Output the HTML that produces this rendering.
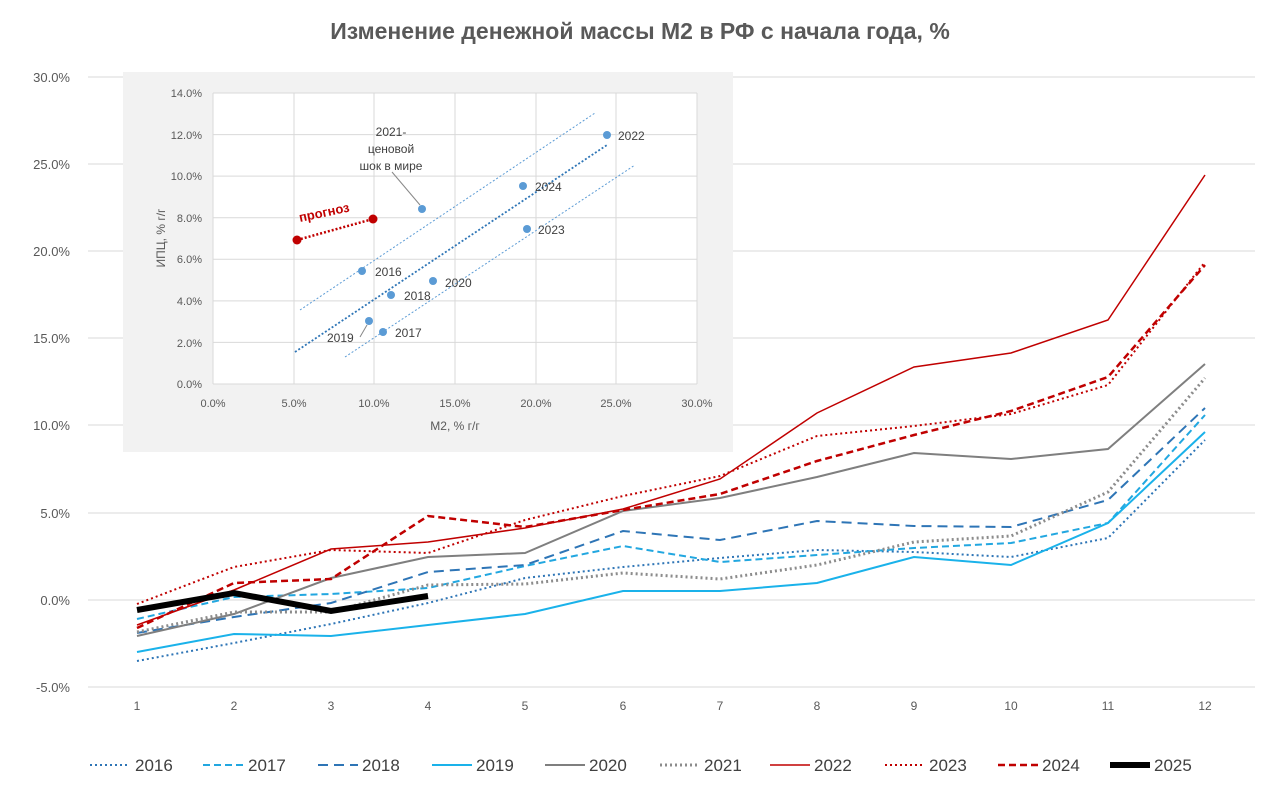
<!DOCTYPE html>
<html><head><meta charset="utf-8"><style>
body{margin:0;background:#fff}
svg text{font-family:"Liberation Sans",sans-serif}
</style></head><body>
<svg width="1280" height="797" viewBox="0 0 1280 797" xmlns="http://www.w3.org/2000/svg">
<rect width="1280" height="797" fill="#fff"/>
<text x="640" y="39" text-anchor="middle" font-size="23" font-weight="bold" fill="#595959">Изменение денежной массы М2 в РФ с начала года, %</text>
<g stroke="#d9d9d9" stroke-width="1">
<line x1="88" x2="1255" y1="77" y2="77"/><line x1="88" x2="1255" y1="164" y2="164"/><line x1="88" x2="1255" y1="251" y2="251"/><line x1="88" x2="1255" y1="338" y2="338"/><line x1="88" x2="1255" y1="425" y2="425"/><line x1="88" x2="1255" y1="513" y2="513"/><line x1="88" x2="1255" y1="600" y2="600"/><line x1="88" x2="1255" y1="687" y2="687"/>
</g>
<g font-size="13" fill="#595959" text-anchor="end">
<text x="70" y="82">30.0%</text><text x="70" y="169">25.0%</text><text x="70" y="256">20.0%</text><text x="70" y="343">15.0%</text><text x="70" y="430">10.0%</text><text x="70" y="518">5.0%</text><text x="70" y="605">0.0%</text><text x="70" y="692">-5.0%</text>
</g>
<g font-size="12" fill="#595959" text-anchor="middle">
<text x="137" y="710">1</text><text x="234" y="710">2</text><text x="331" y="710">3</text><text x="428" y="710">4</text><text x="525" y="710">5</text><text x="623" y="710">6</text><text x="720" y="710">7</text><text x="817" y="710">8</text><text x="914" y="710">9</text><text x="1011" y="710">10</text><text x="1108" y="710">11</text><text x="1205" y="710">12</text>
</g>
<g fill="none" stroke-width="2">
<polyline stroke="#2e75b6" stroke-dasharray="2,3" points="137,661 234,643 331,624 428,603 525,578 623,567 720,558 817,550 914,552 1011,557 1108,538 1205,440"/>
<polyline stroke="#22a7e0" stroke-dasharray="7,4" points="137,619 234,597 331,594 428,588 525,566 623,546 720,562 817,555 914,548 1011,543 1108,523 1205,415"/>
<polyline stroke="#2e75b6" stroke-dasharray="10,6" points="137,633 234,617 331,603 428,572 525,565 623,531 720,540 817,521 914,526 1011,527 1108,500 1205,408"/>
<polyline stroke="#1ab2ea" points="137,652 234,634 331,636 428,625 525,614 623,591 720,591 817,583 914,557 1011,565 1108,523 1205,432"/>
<polyline stroke="#7f7f7f" points="137,636 234,614 331,578 428,557 525,553 623,511 720,498 817,477 914,453 1011,459 1108,449 1205,364"/>
<polyline stroke="#8c8c8c" stroke-width="3" stroke-dasharray="2,3" points="137,632 234,612 331,612 428,585 525,584 623,573 720,579 817,565 914,542 1011,536 1108,492 1205,378"/>
<polyline stroke="#c00000" stroke-width="1.5" points="137,625 234,590 331,549 428,542 525,528 623,509 720,479 817,413 914,367 1011,353 1108,320 1205,175"/>
<polyline stroke="#c00000" stroke-dasharray="2,3" points="137,604 234,567 331,550 428,553 525,520 623,496 720,476 817,436 914,426 1011,414 1108,385 1205,262"/>
<polyline stroke="#c00000" stroke-width="2.5" stroke-dasharray="7,4" points="137,628 234,583 331,579 428,516 525,527 623,510 720,494 817,461 914,435 1011,411 1108,377 1205,265"/>
<polyline stroke="#000" stroke-width="6" points="137,610 234,593 331,611 428,596"/>
</g>
<!-- inset -->
<rect x="123" y="72" width="610" height="380" fill="#f2f2f2"/>
<rect x="213" y="93" width="484" height="291" fill="#fff"/>
<g stroke="#d9d9d9" stroke-width="1">
<line x1="213" x2="697" y1="93" y2="93"/><line x1="213" x2="697" y1="134.6" y2="134.6"/><line x1="213" x2="697" y1="176.1" y2="176.1"/><line x1="213" x2="697" y1="217.7" y2="217.7"/><line x1="213" x2="697" y1="259.3" y2="259.3"/><line x1="213" x2="697" y1="300.9" y2="300.9"/><line x1="213" x2="697" y1="342.4" y2="342.4"/><line x1="213" x2="697" y1="384" y2="384"/>
<line y1="93" y2="384" x1="213" x2="213"/><line y1="93" y2="384" x1="294" x2="294"/><line y1="93" y2="384" x1="374" x2="374"/><line y1="93" y2="384" x1="455" x2="455"/><line y1="93" y2="384" x1="536" x2="536"/><line y1="93" y2="384" x1="616" x2="616"/><line y1="93" y2="384" x1="697" x2="697"/>
</g>
<g font-size="11" fill="#595959" text-anchor="end">
<text x="202" y="97">14.0%</text><text x="202" y="139">12.0%</text><text x="202" y="180">10.0%</text><text x="202" y="222">8.0%</text><text x="202" y="263">6.0%</text><text x="202" y="305">4.0%</text><text x="202" y="347">2.0%</text><text x="202" y="388">0.0%</text>
</g>
<g font-size="11" fill="#595959" text-anchor="middle">
<text x="213" y="407">0.0%</text><text x="294" y="407">5.0%</text><text x="374" y="407">10.0%</text><text x="455" y="407">15.0%</text><text x="536" y="407">20.0%</text><text x="616" y="407">25.0%</text><text x="697" y="407">30.0%</text>
<text x="455" y="430" font-size="12">М2, % г/г</text>
</g>
<text x="165" y="238" font-size="12" fill="#595959" text-anchor="middle" transform="rotate(-90 165 238)">ИПЦ, % г/г</text>
<g fill="none" stroke="#5b9bd5" stroke-dasharray="2,2" stroke-width="1">
<line x1="300" y1="310" x2="595" y2="113"/><line x1="345" y1="357" x2="635" y2="165"/>
</g>
<line x1="295" y1="352" x2="607" y2="145" stroke="#2e75b6" stroke-dasharray="2,2" stroke-width="1.8"/>
<line x1="392" y1="172" x2="420" y2="205" stroke="#888" stroke-width="1"/>
<line x1="360" y1="337" x2="367" y2="325" stroke="#888" stroke-width="1"/>
<line x1="297" y1="240" x2="373" y2="219" stroke="#c00000" stroke-width="2.5" stroke-dasharray="2,2"/>
<g fill="#5b9bd5">
<circle cx="607" cy="135" r="4"/><circle cx="523" cy="186" r="4"/><circle cx="527" cy="229" r="4"/><circle cx="422" cy="209" r="4"/><circle cx="362" cy="271" r="4"/><circle cx="433" cy="281" r="4"/><circle cx="391" cy="295" r="4"/><circle cx="369" cy="321" r="4"/><circle cx="383" cy="332" r="4"/>
</g>
<g fill="#c00000"><circle cx="297" cy="240" r="4.5"/><circle cx="373" cy="219" r="4.5"/></g>
<text x="300" y="222" font-size="13" font-weight="bold" fill="#c00000" transform="rotate(-12 300 222)">прогноз</text>
<g font-size="12" fill="#404040">
<text x="618" y="140">2022</text><text x="535" y="191">2024</text><text x="538" y="234">2023</text><text x="375" y="276">2016</text><text x="445" y="287">2020</text><text x="404" y="300">2018</text><text x="395" y="337">2017</text><text x="327" y="342">2019</text>
<text x="391" y="136" text-anchor="middle">2021-</text><text x="391" y="153" text-anchor="middle">ценовой</text><text x="391" y="170" text-anchor="middle">шок в мире</text>
</g>
<!-- legend -->
<g fill="none" stroke-width="2">
<line x1="90" x2="130" y1="765" y2="765" stroke="#2e75b6" stroke-dasharray="2,3"/>
<line x1="203" x2="243" y1="765" y2="765" stroke="#22a7e0" stroke-dasharray="7,4"/>
<line x1="318" x2="358" y1="765" y2="765" stroke="#2e75b6" stroke-dasharray="10,6"/>
<line x1="432" x2="472" y1="765" y2="765" stroke="#1ab2ea"/>
<line x1="545" x2="585" y1="765" y2="765" stroke="#7f7f7f"/>
<line x1="660" x2="700" y1="765" y2="765" stroke="#8c8c8c" stroke-width="3" stroke-dasharray="2,3"/>
<line x1="770" x2="810" y1="765" y2="765" stroke="#c00000" stroke-width="1.5"/>
<line x1="885" x2="925" y1="765" y2="765" stroke="#c00000" stroke-dasharray="2,3"/>
<line x1="998" x2="1038" y1="765" y2="765" stroke="#c00000" stroke-width="2.5" stroke-dasharray="7,4"/>
<line x1="1110" x2="1150" y1="765" y2="765" stroke="#000" stroke-width="6"/>
</g>
<g font-size="17" fill="#404040">
<text x="135" y="771">2016</text><text x="248" y="771">2017</text><text x="362" y="771">2018</text><text x="476" y="771">2019</text><text x="589" y="771">2020</text><text x="704" y="771">2021</text><text x="814" y="771">2022</text><text x="929" y="771">2023</text><text x="1042" y="771">2024</text><text x="1154" y="771">2025</text>
</g>
</svg>
</body></html>
